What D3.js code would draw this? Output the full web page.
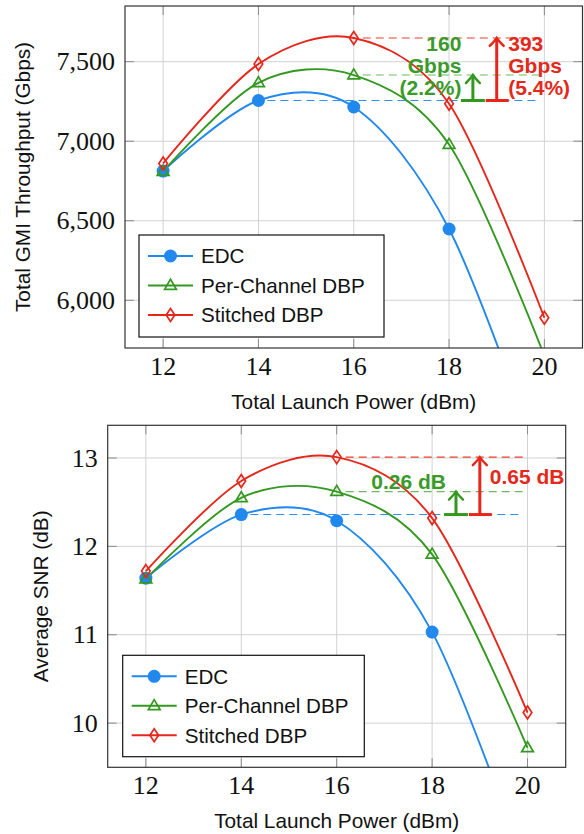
<!DOCTYPE html>
<html>
<head>
<meta charset="utf-8">
<script src="https://cdn.jsdelivr.net/npm/d3@7"></script>
<style>
    body { margin: 0; background: #fff; }
    svg { display: block; }
    .tick-label { font-family: "Liberation Serif", serif; font-size: 26px; fill: #111; }
    .axis-label { font-family: "Liberation Sans", Arial, sans-serif; font-size: 20.8px; fill: #111; }
    .legend-label { font-family: "Liberation Sans", Arial, sans-serif; font-size: 20.6px; fill: #111; }
    .gain-label { font-family: "Liberation Sans", Arial, sans-serif; font-size: 21px; font-weight: bold; }
</style>
</head>
<body>
<div id="chart"></div>
<script>
// launch powers (dBm)
const powers = [12, 14, 16, 18, 20];
const xTicks = [12, 14, 16, 18, 20];

// total GMI throughput (Gbps)
const gmiEDC = [6812, 7256, 7215, 6448, 4900];
const gmiPerChannel = [6810, 7367, 7416, 6979, 5650];
const gmiStitched = [6860, 7485, 7649, 7235, 5890];
const gmiTicks = [6000, 6500, 7000, 7500];
const gmiGainPerChannel = ['160', 'Gbps', '(2.2%)'];
const gmiGainStitched = ['393', 'Gbps', '(5.4%)'];

// average SNR (dB)
const snrEDC = [11.64, 12.36, 12.29, 11.03, 8.3];
const snrPerChannel = [11.63, 12.55, 12.62, 11.91, 9.72];
const snrStitched = [11.72, 12.74, 13.01, 12.32, 10.12];
const snrTicks = [10, 11, 12, 13];
const snrGainPerChannel = ['0.26 dB'];
const snrGainStitched = ['0.65 dB'];

const seriesNames = ['EDC', 'Per-Channel DBP', 'Stitched DBP'];
const colors = ['#2188ee', '#33981f', '#e6261a'];
const markers = ['circle', 'triangle', 'diamond'];

const W = 584, H = 834;

const svg = d3.select('#chart').append('svg')
    .attr('width', W)
    .attr('height', H);

function drawMarker(g, type, cx, cy, color) {
    if (type === 'circle') {
        g.append('circle').attr('cx', cx).attr('cy', cy).attr('r', 6.5).attr('fill', color);
    } else if (type === 'triangle') {
        const s = 6.2;
        g.append('path')
            .attr('d', `M${cx},${cy - s} L${cx + s * 0.95},${cy + s * 0.62} L${cx - s * 0.95},${cy + s * 0.62} Z`)
            .attr('fill', 'none').attr('stroke', color).attr('stroke-width', 1.7);
    } else {
        g.append('path')
            .attr('d', `M${cx},${cy - 6.5} L${cx + 4.3},${cy} L${cx},${cy + 6.5} L${cx - 4.3},${cy} Z`)
            .attr('fill', 'none').attr('stroke', color).attr('stroke-width', 1.7);
    }
}

function arrow(g, x, y0, y1, color) {
    g.append('line')
        .attr('x1', x).attr('x2', x).attr('y1', y0).attr('y2', y1 + 1)
        .attr('stroke', color).attr('stroke-width', 3);
    g.append('path')
        .attr('d', `M${x - 7},${y1 + 8} Q${x - 2},${y1 + 3} ${x},${y1} Q${x + 2},${y1 + 3} ${x + 7},${y1 + 8}`)
        .attr('fill', 'none').attr('stroke', color).attr('stroke-width', 2.4)
        .attr('stroke-linecap', 'round');
}

function drawPanel(p) {
    const x = d3.scaleLinear().domain([11.2, 20.8]).range([p.left, p.right]);
    const y = d3.scaleLinear().domain(p.yDomain).range([p.bottom, p.top]);
    const g = svg.append('g');

    const clipId = 'clip-' + p.id;
    svg.append('clipPath').attr('id', clipId)
        .append('rect')
        .attr('x', p.left).attr('y', p.top)
        .attr('width', p.right - p.left).attr('height', p.bottom - p.top);

    // grid
    g.selectAll('.vgrid').data(xTicks).enter().append('line')
        .attr('x1', d => x(d)).attr('x2', d => x(d))
        .attr('y1', p.top).attr('y2', p.bottom)
        .attr('stroke', '#d2d2d2').attr('stroke-width', 1);
    g.selectAll('.hgrid').data(p.yTicks).enter().append('line')
        .attr('x1', p.left).attr('x2', p.right)
        .attr('y1', d => y(d)).attr('y2', d => y(d))
        .attr('stroke', '#d2d2d2').attr('stroke-width', 1);

    // tick marks inside the frame
    const tl = 9;
    xTicks.forEach(t => {
        g.append('line').attr('x1', x(t)).attr('x2', x(t)).attr('y1', p.bottom).attr('y2', p.bottom - tl)
            .attr('stroke', '#8a8a8a').attr('stroke-width', 1);
        g.append('line').attr('x1', x(t)).attr('x2', x(t)).attr('y1', p.top).attr('y2', p.top + tl)
            .attr('stroke', '#8a8a8a').attr('stroke-width', 1);
    });
    p.yTicks.forEach(t => {
        g.append('line').attr('x1', p.left).attr('x2', p.left + tl).attr('y1', y(t)).attr('y2', y(t))
            .attr('stroke', '#8a8a8a').attr('stroke-width', 1);
        g.append('line').attr('x1', p.right).attr('x2', p.right - tl).attr('y1', y(t)).attr('y2', y(t))
            .attr('stroke', '#8a8a8a').attr('stroke-width', 1);
    });

    // tick labels
    g.selectAll('.xt').data(xTicks).enter().append('text')
        .attr('class', 'tick-label')
        .attr('x', d => x(d)).attr('y', p.bottom + 27)
        .attr('text-anchor', 'middle')
        .text(d => d);
    g.selectAll('.yt').data(p.yTicks).enter().append('text')
        .attr('class', 'tick-label')
        .attr('x', p.left - 10).attr('y', d => y(d))
        .attr('dy', '0.33em')
        .attr('text-anchor', 'end')
        .text(d => p.tickFormat(d));

    // axis titles
    g.append('text')
        .attr('class', 'axis-label')
        .attr('x', (p.left + p.right) / 2).attr('y', p.bottom + 61)
        .attr('text-anchor', 'middle')
        .text('Total Launch Power (dBm)');
    g.append('text')
        .attr('class', 'axis-label')
        .attr('transform', `translate(${p.yLabelX},${(p.top + p.bottom) / 2}) rotate(-90)`)
        .attr('text-anchor', 'middle')
        .text(p.yLabel);

    // reference lines and gain arrows
    const [edc, pc, st] = p.series;
    const edcMax = d3.max(edc), pcMax = d3.max(pc), stMax = d3.max(st);
    const ref = g.append('g').attr('clip-path', `url(#${clipId})`);
    [[powers[edc.indexOf(edcMax)], edcMax, '#2f8ff2', 1],
     [powers[pc.indexOf(pcMax)], pcMax, '#6fb760', 1],
     [powers[st.indexOf(stMax)], stMax, '#e8402f', 1]].forEach(r => {
        ref.append('line')
            .attr('x1', x(r[0]) + 9).attr('x2', x(19.9))
            .attr('y1', y(r[1])).attr('y2', y(r[1]))
            .attr('stroke', r[2]).attr('stroke-width', 1.1)
            .attr('stroke-dasharray', '8,5');
    });

    // curves
    const line = d3.line()
        .x((d, i) => x(powers[i]))
        .y(d => y(d))
        .curve(d3.curveCardinal.tension(0.05));
    const curves = g.append('g').attr('clip-path', `url(#${clipId})`);
    p.series.forEach((s, k) => {
        curves.append('path')
            .attr('d', line(s))
            .attr('fill', 'none')
            .attr('stroke', colors[k])
            .attr('stroke-width', 1.9);
    });
    p.series.forEach((s, k) => {
        s.forEach((v, i) => {
            if (v >= p.yDomain[0] && v <= p.yDomain[1]) drawMarker(curves, markers[k], x(powers[i]), y(v), colors[k]);
        });
    });

    // arrows
    const ag = g.append('g');
    const xa = x(18.5), xb = x(19);
    ag.append('line').attr('x1', xa - 12).attr('x2', xa + 12).attr('y1', y(edcMax)).attr('y2', y(edcMax))
        .attr('stroke', colors[1]).attr('stroke-width', 3);
    ag.append('line').attr('x1', xb - 11).attr('x2', xb + 12).attr('y1', y(edcMax)).attr('y2', y(edcMax))
        .attr('stroke', colors[2]).attr('stroke-width', 3);
    arrow(ag, xa, y(edcMax), y(pcMax), colors[1]);
    arrow(ag, xb, y(edcMax), y(stMax), colors[2]);

    p.gainPC.forEach((t, i) => {
        ag.append('text').attr('class', 'gain-label')
            .attr('x', xa + p.gainPCdx).attr('y', p.gainPCy(y, pcMax, stMax) + i * 21.8)
            .attr('text-anchor', 'end').attr('fill', '#3a9a2a')
            .text(t);
    });
    p.gainST.forEach((t, i) => {
        ag.append('text').attr('class', 'gain-label')
            .attr('x', xb + p.gainSTdx).attr('y', p.gainSTy(y, pcMax, stMax) + i * 21.8)
            .attr('text-anchor', 'start').attr('fill', '#e4281c')
            .text(t);
    });

    // frame
    g.append('rect')
        .attr('x', p.left).attr('y', p.top)
        .attr('width', p.right - p.left).attr('height', p.bottom - p.top)
        .attr('fill', 'none').attr('stroke', '#333').attr('stroke-width', 1.2);

    // legend
    const lg = g.append('g');
    lg.append('rect')
        .attr('x', p.legend.x).attr('y', p.legend.y)
        .attr('width', p.legend.w).attr('height', p.legend.h)
        .attr('fill', '#fff').attr('stroke', '#111').attr('stroke-width', 1.2);
    seriesNames.forEach((name, k) => {
        const ly = p.legend.y + 21 + k * 29.5;
        const lx = p.legend.x + 9;
        lg.append('line').attr('x1', lx).attr('x2', lx + 45).attr('y1', ly).attr('y2', ly)
            .attr('stroke', colors[k]).attr('stroke-width', 1.9);
        drawMarker(lg, markers[k], lx + 22.5, ly, colors[k]);
        lg.append('text').attr('class', 'legend-label')
            .attr('x', lx + 53).attr('y', ly).attr('dy', '0.36em')
            .text(name);
    });
}

drawPanel({
    id: 'gmi',
    left: 125, right: 582.5, top: 6, bottom: 348,
    yDomain: [5700, 7850],
    yTicks: gmiTicks,
    tickFormat: d3.format(','),
    yLabel: 'Total GMI Throughput (Gbps)',
    yLabelX: 30,
    series: [gmiEDC, gmiPerChannel, gmiStitched],
    gainPC: gmiGainPerChannel,
    gainST: gmiGainStitched,
    gainPCdx: -11.5,
    gainSTdx: 11.5,
    gainPCy: (y, pc, st) => y(st) + 13,
    gainSTy: (y, pc, st) => y(st) + 13,
    legend: { x: 139, y: 235, w: 245, h: 102 }
});

drawPanel({
    id: 'snr',
    left: 107.7, right: 565.7, top: 425.3, bottom: 767.3,
    yDomain: [9.5, 13.37],
    yTicks: snrTicks,
    tickFormat: d => d,
    yLabel: 'Average SNR (dB)',
    yLabelX: 48,
    series: [snrEDC, snrPerChannel, snrStitched],
    gainPC: snrGainPerChannel,
    gainST: snrGainStitched,
    gainPCdx: -10,
    gainSTdx: 10,
    gainPCy: (y, pc, st) => y(pc) - 3,
    gainSTy: (y, pc, st) => y(st) + 27,
    legend: { x: 122.7, y: 655.3, w: 241.6, h: 101.4 }
});
</script>
</body>
</html>
